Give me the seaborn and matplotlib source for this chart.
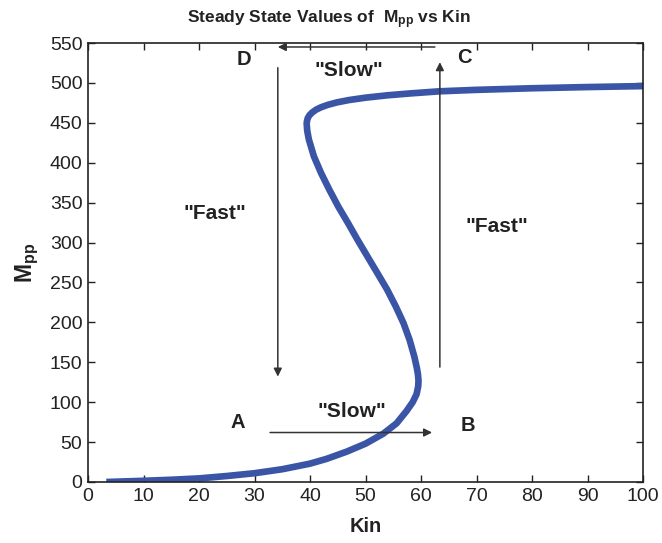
import matplotlib
matplotlib.use("Agg")
import matplotlib.pyplot as plt
import seaborn as sns
import pandas as pd

# ---- data ----
kin = [3.3, 10, 15, 20, 25, 30, 35, 40, 43, 46.6, 50, 53.2, 55.6, 57.4, 58.5, 59.2,
       59.5, 59.55, 59.45, 59.25, 58.8, 57.95, 56.85, 55.45, 53.9, 52.2, 50.4, 48.6,
       46.8, 45.1, 43.5, 42.0, 40.7, 39.8, 39.5, 39.4, 39.45, 39.6, 39.9, 40.4, 41.1,
       42.0, 43.2, 44.8, 47.0, 50.0, 54.0, 58.0, 63.4, 70, 80, 90, 100]
mpp = [0, 1.5, 2.8, 4.5, 7.5, 11, 16, 23, 29, 38, 48, 60.5, 73.5, 89, 100, 110,
       120, 127, 135, 143, 157, 178, 199, 220, 241, 261, 282, 303,
       325, 345, 366, 387, 408, 429, 440, 449, 452, 456, 459.5, 463, 466.5,
       469.5, 472.5, 475.5, 478.5, 481.5, 484.5, 486.8, 489.5, 491.3, 493.3, 494.8, 496]

letters = ["D", "C", "A", "B"]
letter_x = [28.1, 67.9, 27.0, 68.5]
letter_y = [529, 532, 74, 71]

phrases = ['"Slow"', '"Fast"', '"Fast"', '"Slow"']
phrase_x = [47.0, 22.9, 73.7, 47.6]
phrase_y = [515, 337, 320, 88]

# arrows: (start_x, start_y) -> (end_x, end_y)
arrow_x0 = [62.5, 34.2, 63.4, 32.8]
arrow_y0 = [545, 519, 144, 62]
arrow_x1 = [34.2, 34.2, 63.4, 62.0]
arrow_y1 = [545, 132, 526, 62]

xticks = [0, 10, 20, 30, 40, 50, 60, 70, 80, 90, 100]
yticks = [0, 50, 100, 150, 200, 250, 300, 350, 400, 450, 500, 550]

sns.set_theme(style="white")
plt.rcParams['font.family'] = ['Liberation Sans', 'DejaVu Sans']
plt.rcParams['mathtext.fontset'] = 'custom'
plt.rcParams['mathtext.rm'] = 'Liberation Sans'
plt.rcParams['mathtext.bf'] = 'Liberation Sans:bold'
plt.rcParams['mathtext.it'] = 'Liberation Sans:italic'

fig = plt.figure(figsize=(6.62, 5.43), dpi=100)
ax = fig.add_axes([88/662, 1 - 482/543, (643-88)/662, (482-43)/543])

df = pd.DataFrame({"Kin": kin, "Mpp": mpp})
sns.lineplot(data=df, x="Kin", y="Mpp", sort=False, estimator=None, ax=ax,
             color="#3a55a6", linewidth=4.8, solid_capstyle="butt",
             solid_joinstyle="round")

for x0, y0, x1, y1 in zip(arrow_x0, arrow_y0, arrow_x1, arrow_y1):
    ax.annotate("", xy=(x1, y1), xytext=(x0, y0),
                arrowprops=dict(arrowstyle="-|>", color="#333333", lw=1.1,
                                mutation_scale=12, shrinkA=0, shrinkB=0))

for t, x, y in zip(letters, letter_x, letter_y):
    ax.text(x, y, t, ha="center", va="center", fontsize=14.5, fontweight="bold",
            color="#222222")
for t, x, y in zip(phrases, phrase_x, phrase_y):
    ax.text(x, y, t, ha="center", va="center", fontsize=15, fontweight="bold",
            color="#222222")

ax.set_xlim(0, 100)
ax.set_ylim(0, 550)
ax.set_xticks(xticks)
ax.set_yticks(yticks)
ax.tick_params(direction="in", length=5, width=1, top=True, right=True,
               labelsize=14, colors="#222222", pad=4)
ax.tick_params(axis="both", which="both", bottom=True, left=True)
for s in ax.spines.values():
    s.set_visible(True)
    s.set_color("#222222")
    s.set_linewidth(1.2)

ax.set_xlabel("Kin", fontsize=14.5, fontweight="bold", color="#222222", labelpad=9)
ax.set_ylabel(r"$\mathbf{M_{pp}}$", fontsize=16.5, color="#222222", labelpad=6)
ax.set_title(r"Steady State Values of  $\mathbf{M_{pp}}$ vs Kin", fontsize=12.5,
             fontweight="bold", color="#222222", pad=14, x=0.434)

fig.savefig("out.png", dpi=100)
